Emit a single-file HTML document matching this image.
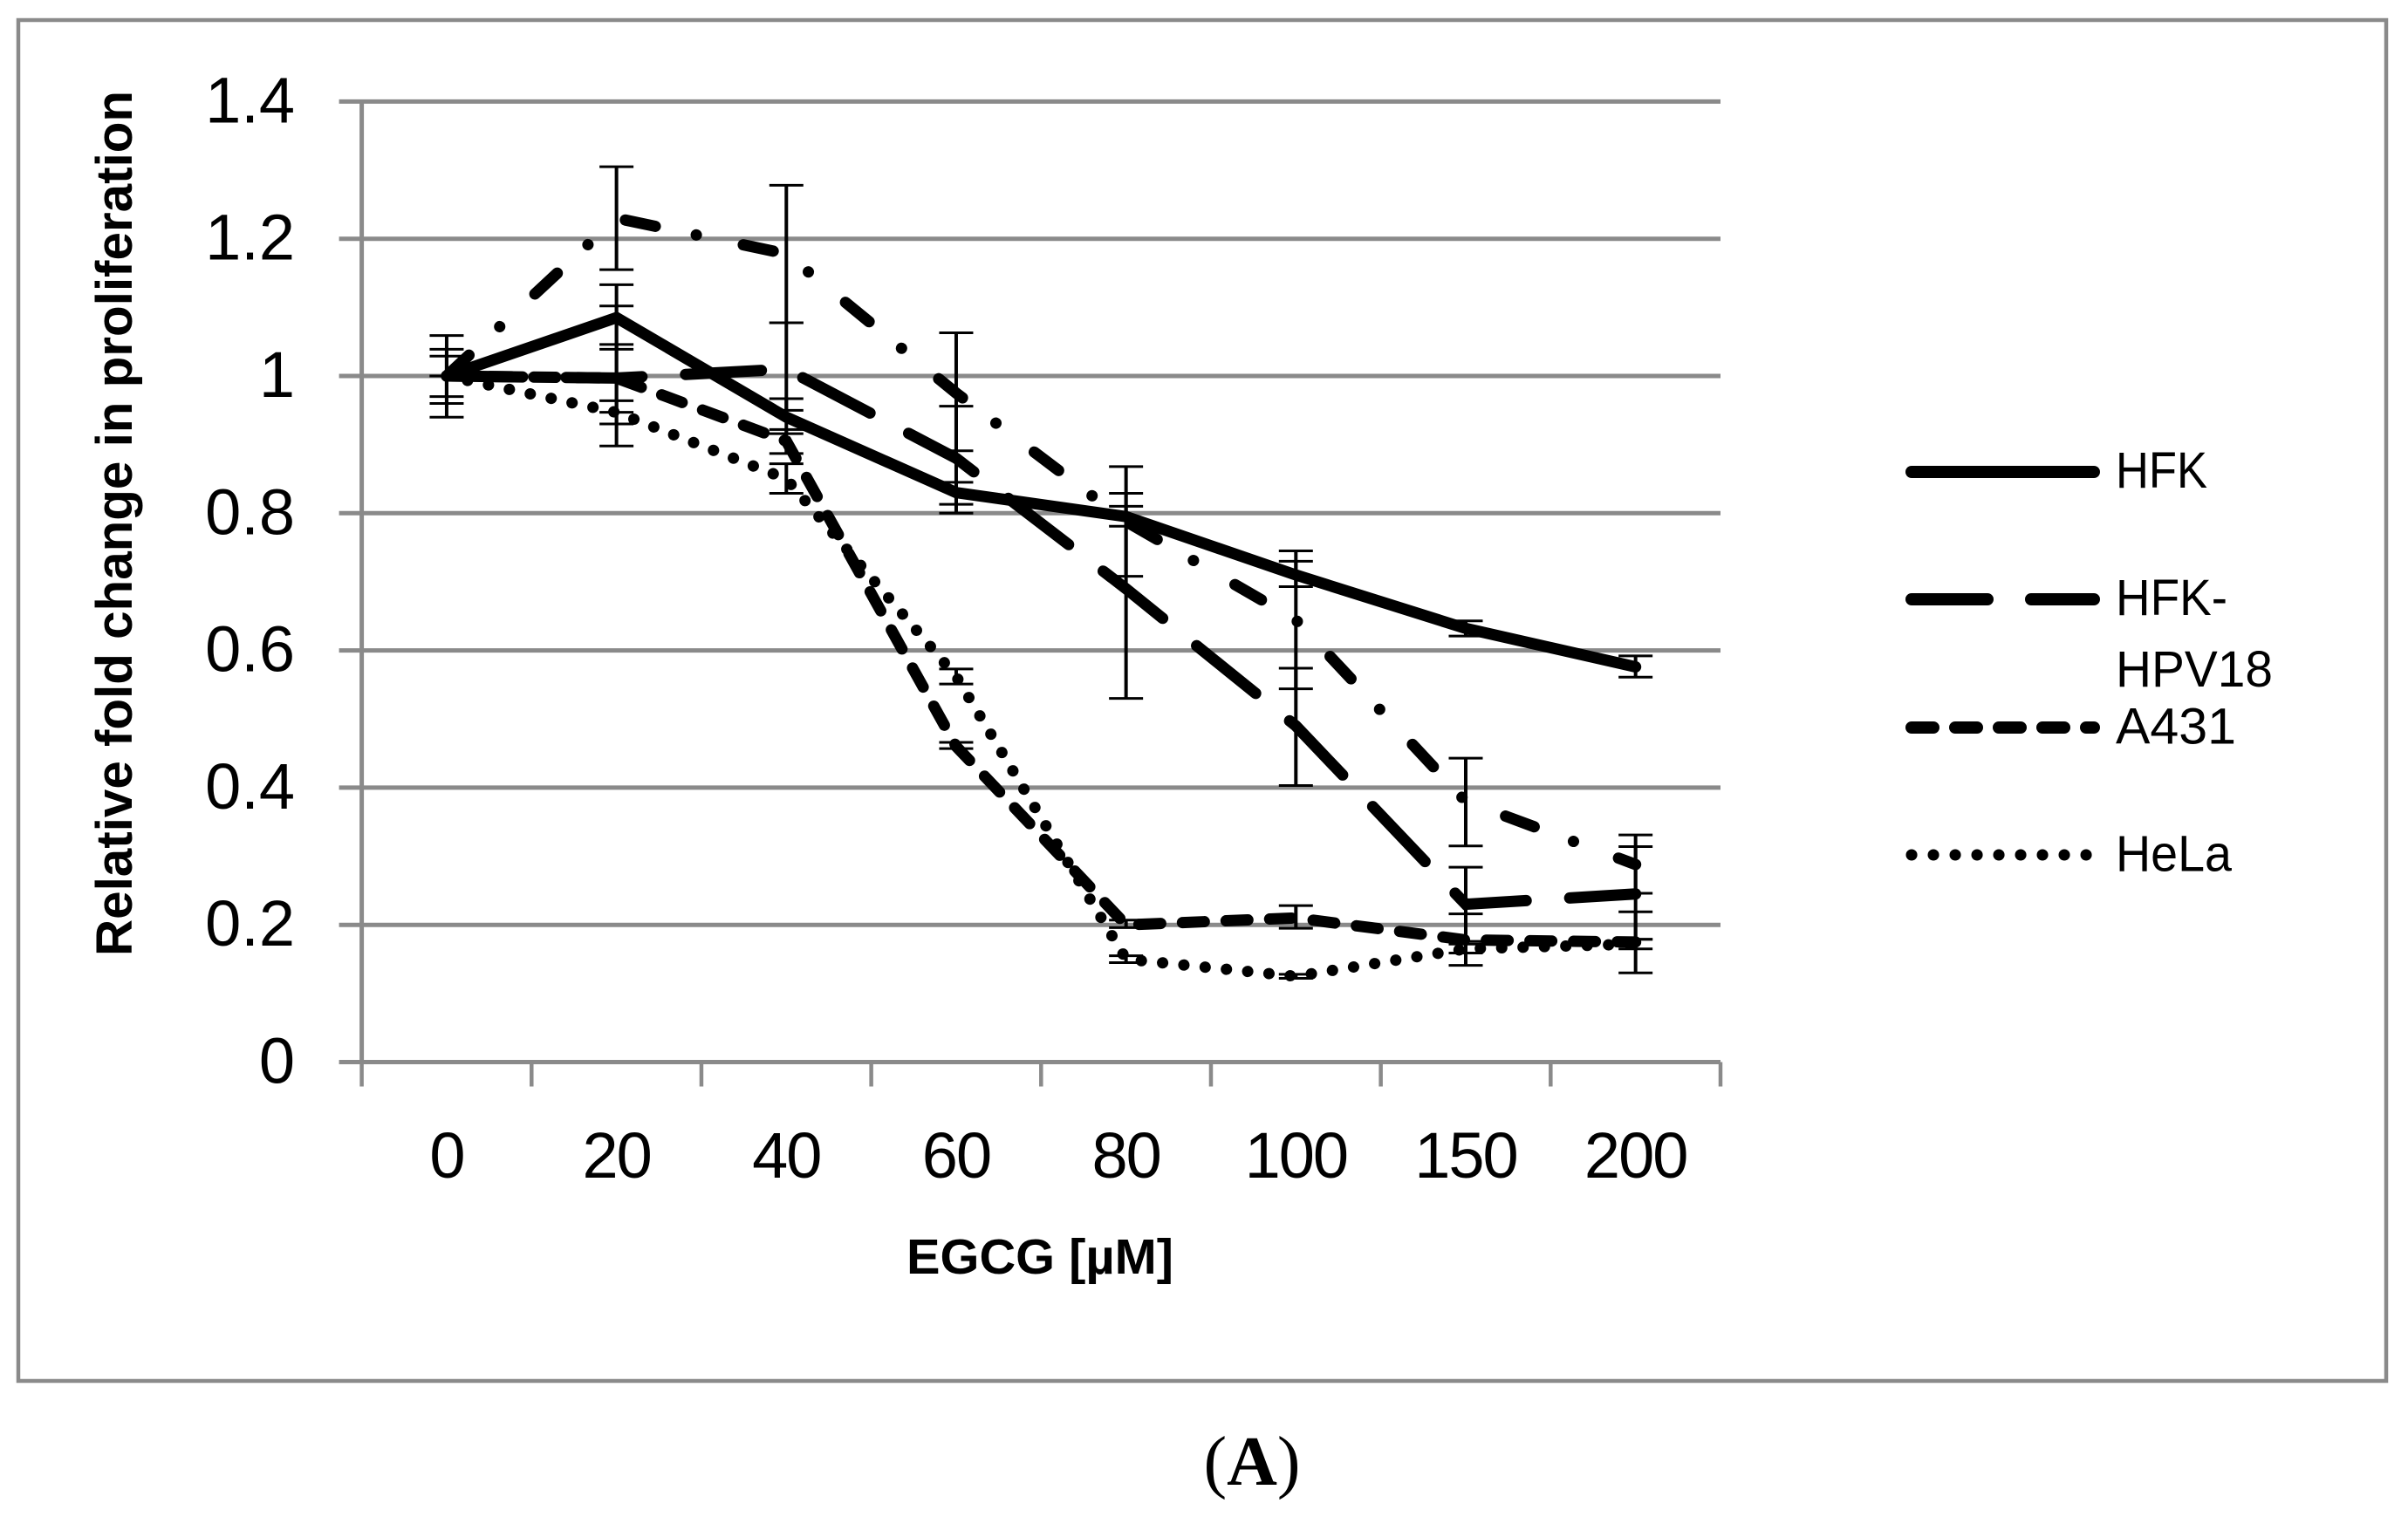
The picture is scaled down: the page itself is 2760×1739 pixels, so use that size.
<!DOCTYPE html>
<html>
<head>
<meta charset="utf-8">
<title>Relative fold change in proliferation vs EGCG</title>
<style>
html,body{margin:0;padding:0;background:#fff;width:2760px;height:1739px;overflow:hidden}
svg{display:block}
text{font-family:"Liberation Sans",sans-serif;fill:#000}
</style>
</head>
<body>
<svg id="chart" xmlns="http://www.w3.org/2000/svg" width="2760" height="1739" viewBox="0 0 2760 1739">
  <rect x="0" y="0" width="2760" height="1739" fill="#fff"/>
  <rect x="21" y="23" width="2714" height="1560" fill="none" stroke="#8a8a8a" stroke-width="4.5"/>
  <g id="grid"></g>
  <g id="axes"></g>
  <g id="errors"></g>
  <g id="lines"></g>
  <g id="ticklabels"></g>
  <text x="151" y="1096" transform="rotate(-90 151 1096)" font-size="58" font-weight="bold" textLength="992" lengthAdjust="spacingAndGlyphs">Relative fold change in proliferation</text>
  <text x="1039" y="1460" font-size="57" font-weight="bold" textLength="306" lengthAdjust="spacingAndGlyphs">EGCG [µM]</text>
  <g>
    <line x1="2191" y1="541" x2="2400" y2="541" stroke="#000" stroke-width="14" stroke-linecap="round"/>
    <text x="2425" y="559" font-size="58" textLength="105" lengthAdjust="spacingAndGlyphs">HFK</text>
    <line x1="2191" y1="687" x2="2400" y2="687" stroke="#000" stroke-width="14" stroke-linecap="round" stroke-dasharray="87 50"/>
    <text x="2425" y="705" font-size="58" textLength="128" lengthAdjust="spacingAndGlyphs">HFK-</text>
    <text x="2425" y="787" font-size="58" textLength="180" lengthAdjust="spacingAndGlyphs">HPV18</text>
    <line x1="2191" y1="834" x2="2400" y2="834" stroke="#000" stroke-width="14" stroke-linecap="round" stroke-dasharray="25 25"/>
    <text x="2425" y="852.5" font-size="58" textLength="138" lengthAdjust="spacingAndGlyphs">A431</text>
    <line x1="2191" y1="980" x2="2400" y2="980" stroke="#000" stroke-width="13" stroke-linecap="round" stroke-dasharray="0.1 24.9"/>
    <text x="2425" y="998.5" font-size="58" textLength="133" lengthAdjust="spacingAndGlyphs">HeLa</text>
  </g>
  <text x="1435" y="1702" text-anchor="middle" font-size="80" style="font-family:'Liberation Serif',serif">(<tspan font-weight="bold">A</tspan>)</text>
</svg>
<script>
const categories = ["0","20","40","60","80","100","150","200"];
const yTicks = [0,0.2,0.4,0.6,0.8,1,1.2,1.4];

const hfkValues = [1,1.085,0.94,0.83,0.795,0.71,0.632,0.576];
const hfkHigh = [1.029,1.133,0.967,0.845,0.81,0.73,0.643,0.592];
const hfkLow = [0.97,1.039,0.916,0.813,0.781,0.693,0.621,0.561];

const longDashValues = [1,0.997,1.01,0.88,0.69,0.49,0.23,0.245];
const longDashHigh = [1.039,1.102,1.0775,0.956,0.829,0.574,0.284,0.314];
const longDashLow = [0.96,0.898,0.95,0.8,0.53,0.403,0.176,0.179];

const dashDotValues = [1,1.23,1.178,0.975,0.788,0.6445,0.38,0.288];
const dashDotHigh = [1.059,1.305,1.278,1.063,0.868,0.745,0.443,0.331];
const dashDotLow = [0.94,1.155,1.0775,0.891,0.708,0.544,0.315,0.246];

const a431Values = [1,0.997,0.905,0.46,0.2,0.21,0.178,0.175];
const a431High = [1,1.046,0.922,0.466,0.207,0.228,0.216,0.219];
const a431Low = [1,0.947,0.887,0.457,0.196,0.195,0.141,0.13];

const helaValues = [1,0.947,0.85,0.562,0.15,0.125,0.165,0.172];
const helaHigh = [1,0.964,0.872,0.573,0.155,0.128,0.172,0.179];
const helaLow = [1,0.93,0.829,0.551,0.145,0.122,0.159,0.165];

const NS = "http://www.w3.org/2000/svg";
const plotLeft = 414.6, plotRight = 1972, plotZero = 1217.5, unitHeight = 786.5;
const step = (plotRight - plotLeft) / categories.length;
function xPos(i){ return plotLeft + step * (i + 0.5); }
function yPos(v){ return plotZero - v * unitHeight; }
function mk(tag, parent, attrs){
  const el = document.createElementNS(NS, tag);
  for (const k in attrs) el.setAttribute(k, attrs[k]);
  parent.appendChild(el);
  return el;
}
const gridG = document.getElementById("grid");
const axesG = document.getElementById("axes");
const errG = document.getElementById("errors");
const linesG = document.getElementById("lines");
const labelG = document.getElementById("ticklabels");
const axisColor = "#8a8a8a";

yTicks.forEach(function(t){
  const gl = mk("line", t === 0 ? axesG : gridG, {x1: plotLeft - 26, x2: plotRight, y1: yPos(t), y2: yPos(t), stroke: axisColor, "stroke-width": 5});
  
  
  const tx = mk("text", labelG, {x: 338, y: yPos(t) + 24, "text-anchor": "end", "font-size": 74});
  tx.textContent = String(t);
  
  
});

const yAxisLine = mk("line", axesG, {x1: plotLeft, x2: plotLeft, y1: yPos(1.4), y2: plotZero, stroke: axisColor, "stroke-width": 5});



for (let i = 0; i <= categories.length; i++) {
  const tk = mk("line", axesG, {x1: plotLeft + step * i, x2: plotLeft + step * i, y1: plotZero, y2: plotZero + 28, stroke: axisColor, "stroke-width": 4.5});
  
  
}
categories.forEach(function(c, i){
  const tx = mk("text", labelG, {x: xPos(i), y: 1350, "text-anchor": "middle", "font-size": 74, "letter-spacing": -2});
  tx.textContent = c;
  
  
});

function drawErrors(high, low, name){
  high.forEach(function(h, i){
    const cx = xPos(i), yh = yPos(h), yl = yPos(low[i]);
    const stem = mk("line", errG, {x1: cx, x2: cx, y1: yh, y2: yl, stroke: "#000", "stroke-width": 4});
    
    
    const capTop = mk("line", errG, {x1: cx - 19.5, x2: cx + 19.5, y1: yh, y2: yh, stroke: "#000", "stroke-width": 3});
    
    
    const capBot = mk("line", errG, {x1: cx - 19.5, x2: cx + 19.5, y1: yl, y2: yl, stroke: "#000", "stroke-width": 3});
    
    
  });
}
function drawLine(values, dash, name){
  const pts = values.map(function(v, i){ return xPos(i).toFixed(1) + "," + yPos(v).toFixed(1); }).join(" ");
  const pl = mk("polyline", linesG, {points: pts, fill: "none", stroke: "#000", "stroke-width": 13, "stroke-linecap": "round", "stroke-linejoin": "miter", "stroke-miterlimit": 10});
  if (dash) pl.setAttribute("stroke-dasharray", dash);
  
  
}

drawErrors(hfkHigh, hfkLow, "hfk");
drawErrors(longDashHigh, longDashLow, "hfk-hpv18");
drawErrors(dashDotHigh, dashDotLow, "dash-dot-series");
drawErrors(a431High, a431Low, "a431");
drawErrors(helaHigh, helaLow, "hela");

drawLine(helaValues, "0.1 24.4", "hela");
drawLine(a431Values, "25 25", "a431");
drawLine(dashDotValues, "35 48 0.1 55", "dash-dot-series");
drawLine(longDashValues, "87 50", "hfk-hpv18");
drawLine(hfkValues, null, "hfk");
</script>
</body>
</html>
